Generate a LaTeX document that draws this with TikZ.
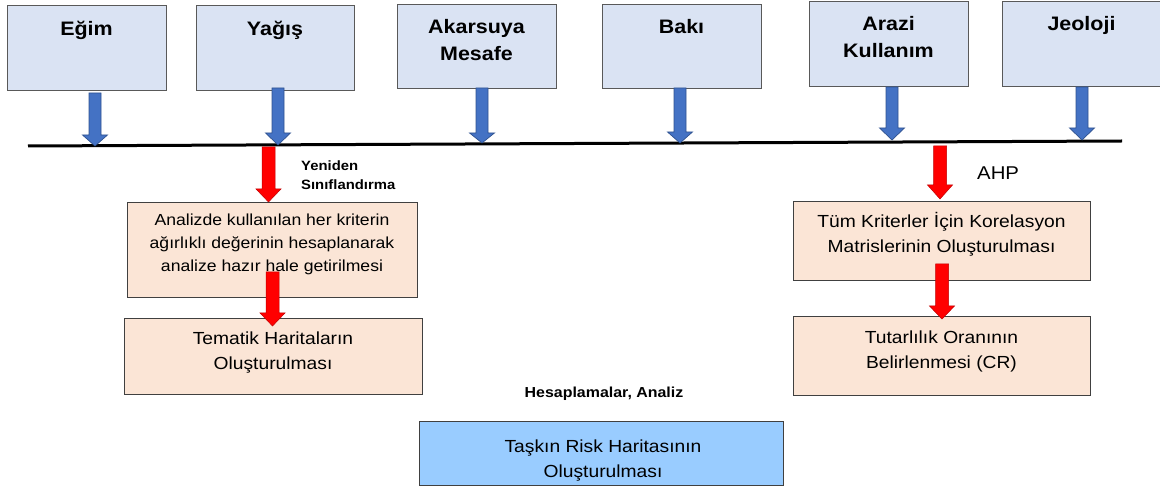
\documentclass[tikz,border=0pt]{standalone}
\usepackage{fontspec}
\setmainfont{Liberation Sans}[FakeStretch=1.1]
\definecolor{topfill}{HTML}{DAE3F3}
\definecolor{topedge}{HTML}{595959}
\definecolor{boxedge}{HTML}{404040}
\definecolor{peach}{HTML}{FBE5D6}
\definecolor{arrblue}{HTML}{4472C4}
\definecolor{arrblueedge}{HTML}{2F528F}
\definecolor{arrred}{HTML}{FF0000}
\definecolor{arrrededge}{HTML}{C00000}
\definecolor{riskfill}{HTML}{99CCFF}
\newcommand\blkarrow[6]{% cx, top, head start, tip, half shaft, style
  \filldraw[#6] (#1-#5,#2) -- (#1+#5,#2) -- (#1+#5,#3) -- (#1+12.5,#3) -- (#1,#4)
    -- (#1-12.5,#3) -- (#1-#5,#3) -- cycle;}
\tikzset{
  topbox/.style={draw=topedge, fill=topfill, line width=0.8pt, inner sep=0pt, anchor=north west},
  peachbox/.style={draw=boxedge, fill=peach, line width=0.8pt, inner sep=0pt, anchor=north west},
  riskbox/.style={draw=boxedge, fill=riskfill, line width=0.9pt, inner sep=0pt, anchor=north west},
  toplbl/.style={anchor=north, inner sep=0pt, align=center, font=\fontsize{19.5}{27}\selectfont\bfseries},
  midlbl/.style={anchor=north, inner sep=0pt, align=center, font=\fontsize{16}{23}\selectfont},
  biglbl/.style={anchor=north, inner sep=0pt, align=center, font=\fontsize{17.5}{25.5}\selectfont},
  bluearr/.style={fill=arrblue, draw=arrblueedge, line width=0.7pt},
  redarr/.style={fill=arrred, draw=arrrededge, line width=0.5pt},
  axisline/.style={line width=3pt, black}
}
\begin{document}
\begin{tikzpicture}[x=1pt,y=-1pt]
\useasboundingbox (0,0) rectangle (1160,486);
% top criterion boxes
\node[topbox, minimum width=159pt, minimum height=85pt] (egim) at (7,5) {};
\node[topbox, minimum width=158pt, minimum height=85pt] (yagis) at (196,5) {};
\node[topbox, minimum width=159pt, minimum height=84pt] (akarsu) at (397,4) {};
\node[topbox, minimum width=159pt, minimum height=84pt] (baki) at (602,4) {};
\node[topbox, minimum width=159pt, minimum height=85pt] (arazi) at (809,1) {};
\node[topbox, minimum width=159pt, minimum height=85pt] (jeoloji) at (1002,1) {};
\node[toplbl] (egimT) at (86.5,15) {\rule{0pt}{20pt}Eğim};
\node[toplbl] (yagisT) at (275,15) {\rule{0pt}{20pt}Yağış};
\node[toplbl] (akarsuT) at (476.5,13) {\rule{0pt}{20pt}Akarsuya\\Mesafe};
\node[toplbl] (bakiT) at (681.5,13) {\rule{0pt}{20pt}Bakı};
\node[toplbl] (araziT) at (888.5,10) {\rule{0pt}{20pt}Arazi\\Kullanım};
\node[toplbl] (jeolojiT) at (1081.5,10) {\rule{0pt}{20pt}Jeoloji};
% collecting line
\coordinate (lineL) at (28,146);
\coordinate (lineR) at (1122,141);
\draw[axisline] (lineL) -- (lineR);
% blue arrows
\blkarrow{95}{93}{135}{146}{6}{bluearr}
\blkarrow{278}{88}{133}{145}{6}{bluearr}
\blkarrow{482}{88}{133}{143}{6}{bluearr}
\blkarrow{680}{88}{132}{143}{6}{bluearr}
\blkarrow{892}{87}{128}{140}{6}{bluearr}
\blkarrow{1082}{87}{128}{140}{6}{bluearr}
% process boxes
\node[peachbox, minimum width=290pt, minimum height=95pt] (analiz) at (127,202) {};
\node[midlbl] (analizT) at (272,205) {\rule{0pt}{20pt}Analizde kullanılan her kriterin\\ağırlıklı değerinin hesaplanarak\\analize hazır hale getirilmesi};
\node[peachbox, minimum width=298pt, minimum height=76pt] (tematik) at (124,318) {};
\node[biglbl] (tematikT) at (273,324) {\rule{0pt}{20pt}Tematik Haritaların\\Oluşturulması};
\node[peachbox, minimum width=297pt, minimum height=79pt] (tum) at (793,201) {};
\node[biglbl] (tumT) at (941.5,207) {\rule{0pt}{20pt}Tüm Kriterler İçin Korelasyon\\Matrislerinin Oluşturulması};
\node[peachbox, minimum width=297pt, minimum height=79pt] (tut) at (793,316) {};
\node[biglbl] (tutT) at (941.5,323) {\rule{0pt}{20pt}Tutarlılık Oranının\\Belirlenmesi (CR)};
\node[riskbox, minimum width=364pt, minimum height=64pt] (risk) at (419,421) {};
\node[biglbl] (riskT) at (603,432) {\rule{0pt}{20pt}Taşkın Risk Haritasının\\Oluşturulması};
% red arrows
\blkarrow{268.5}{147}{189}{202}{6.5}{redarr}
\blkarrow{272.5}{272}{313}{326}{6.5}{redarr}
\blkarrow{940}{146}{185}{199}{6.5}{redarr}
\blkarrow{942}{264}{306}{319}{6.5}{redarr}
% annotations
\node[anchor=north west, inner sep=0pt, align=left, font=\fontsize{13.5}{19}\selectfont\bfseries] (yeniden) at (301,150) {\rule{0pt}{20pt}Yeniden\\Sınıflandırma};
\node[anchor=north west, inner sep=0pt, font=\fontsize{18.5}{22}\selectfont] (ahp) at (977,159) {\rule{0pt}{20pt}AHP};
\node[anchor=north, inner sep=0pt, font=\fontsize{14.5}{17}\selectfont\bfseries] (hesap) at (604,377) {\rule{0pt}{20pt}Hesaplamalar, Analiz};
\end{tikzpicture}
\end{document}
